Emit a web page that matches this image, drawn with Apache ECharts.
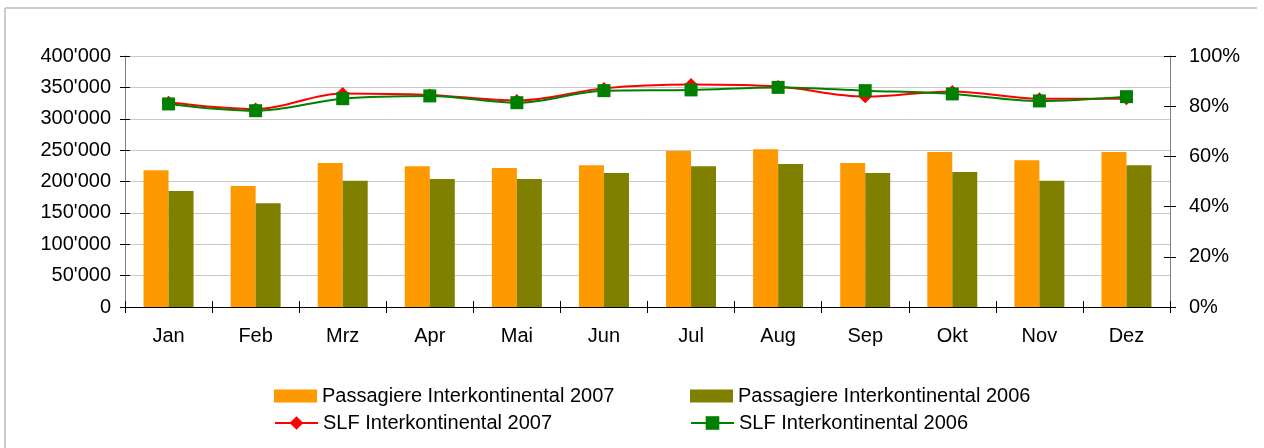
<!DOCTYPE html>
<html>
<head>
<meta charset="utf-8">
<script src="https://cdn.jsdelivr.net/npm/echarts@6/dist/echarts.min.js"></script>
<style>
html,body{margin:0;padding:0;background:#fff;}
#chart{width:1264px;height:448px;}
</style>
</head>
<body>
<div id="chart"></div>
<script>
// Monate
var months = ['Jan','Feb','Mrz','Apr','Mai','Jun','Jul','Aug','Sep','Okt','Nov','Dez'];

// Passagiere (linke Achse)
var pax2007 = [218000, 193000, 229500, 224500, 221500, 226000, 248500, 251500, 229500, 247000, 234000, 247000];
var pax2006 = [185000, 165500, 201000, 204000, 204000, 213500, 224500, 228000, 213500, 215000, 201000, 226000];

// Sitzladefaktor in % (rechte Achse)
var slf2007 = [81.6, 78.9, 85.1, 84.5, 82.3, 87.1, 88.6, 87.8, 83.8, 85.9, 83.0, 83.0];
var slf2006 = [80.9, 78.2, 83.0, 84.1, 81.4, 86.2, 86.5, 87.5, 86.2, 84.9, 82.1, 83.8];

var names = ['Passagiere Interkontinental 2007','Passagiere Interkontinental 2006',
             'SLF Interkontinental 2007','SLF Interkontinental 2006'];

var fnt = 'Liberation Sans, Arial, sans-serif';
var fs = 20;

function thousands(v){
    return String(v).replace(/\B(?=(\d{3})+(?!\d))/g, "'");
}

function legendAt(name, left, top, icon, h){
    return {
        data: icon ? [{name: name, icon: icon}] : [name],
        left: left,
        top: top,
        itemWidth: 43,
        itemHeight: h,
        padding: 0,
        selectedMode: false,
        textStyle: {color: '#000', fontSize: fs, fontFamily: fnt}
    };
}

var chart = echarts.init(document.getElementById('chart'));
var option = {
    backgroundColor: '#fff',
    animation: false,
    textStyle: {fontFamily: fnt},
    graphic: [
        {type: 'line', shape: {x1: 5, y1: 8, x2: 1257, y2: 8}, style: {stroke: '#cccccc', lineWidth: 2}},
        {type: 'line', shape: {x1: 5, y1: 8, x2: 5, y2: 448}, style: {stroke: '#cccccc', lineWidth: 2}}
    ],
    legend: [
        legendAt(names[0], 274, 386, 'rect', 13),
        legendAt(names[1], 690, 386, 'rect', 13),
        legendAt(names[2], 274, 413, null, 17),
        legendAt(names[3], 690, 413, null, 17)
    ],
    grid: {left: 125, right: 94, top: 56, bottom: 141},
    xAxis: [
        {
            type: 'category',
            data: months,
            axisLine: {lineStyle: {color: '#000', width: 1}},
            axisTick: {show: true, inside: false, length: 6, lineStyle: {color: '#000'}},
            axisLabel: {color: '#000', fontSize: fs, fontFamily: fnt, margin: 19}
        },
        {
            type: 'category',
            data: months,
            position: 'bottom',
            axisLine: {show: false},
            axisTick: {show: true, inside: true, length: 6, lineStyle: {color: '#000'}},
            axisLabel: {show: false}
        }
    ],
    yAxis: [
        {
            type: 'value',
            min: 0, max: 400000, interval: 50000,
            axisLine: {show: true, lineStyle: {color: '#808080'}},
            axisTick: {show: true, length: 5, lineStyle: {color: '#000'}},
            axisLabel: {color: '#000', fontSize: fs, fontFamily: fnt, margin: 14, formatter: thousands},
            splitLine: {show: true, lineStyle: {color: '#c8c8c8', width: 1}}
        },
        {
            type: 'value',
            position: 'right',
            min: 0, max: 100, interval: 20,
            axisLine: {show: true, lineStyle: {color: '#808080'}},
            axisTick: {show: true, length: 6, lineStyle: {color: '#000'}},
            axisLabel: {color: '#000', fontSize: fs, fontFamily: fnt, margin: 19, formatter: '{value}%'},
            splitLine: {show: false}
        },
        {
            type: 'value',
            position: 'left',
            min: 0, max: 400000, interval: 50000,
            axisLine: {show: false},
            axisTick: {show: true, inside: true, length: 5, lineStyle: {color: '#000'}},
            axisLabel: {show: false},
            splitLine: {show: false}
        },
        {
            type: 'value',
            position: 'right',
            min: 0, max: 100, interval: 20,
            axisLine: {show: false},
            axisTick: {show: true, inside: true, length: 6, lineStyle: {color: '#000'}},
            axisLabel: {show: false},
            splitLine: {show: false}
        }
    ],
    series: [
        {
            name: names[0], type: 'bar', data: pax2007,
            barWidth: 25, barGap: '0%',
            itemStyle: {color: '#ff9900'}
        },
        {
            name: names[1], type: 'bar', data: pax2006,
            barWidth: 25, barGap: '0%',
            itemStyle: {color: '#808000'}
        },
        {
            name: names[2], type: 'line', yAxisIndex: 1, data: slf2007,
            smooth: 0.35, symbol: 'diamond', symbolSize: 13,
            lineStyle: {color: '#ff0000', width: 2},
            itemStyle: {color: '#ff0000'}
        },
        {
            name: names[3], type: 'line', yAxisIndex: 1, data: slf2006,
            smooth: 0.35, symbol: 'rect', symbolSize: 13,
            lineStyle: {color: '#008000', width: 2},
            itemStyle: {color: '#008000'}
        }
    ]
};
chart.setOption(option);
</script>
</body>
</html>
